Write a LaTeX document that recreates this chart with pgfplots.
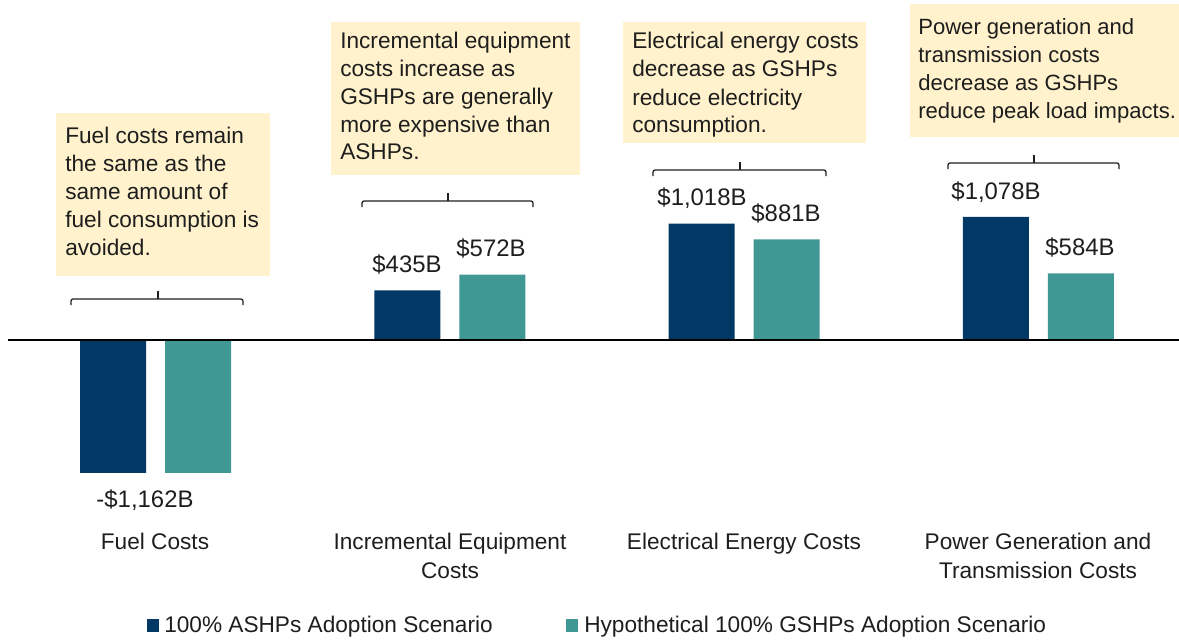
\documentclass[border=0pt]{standalone}
\usepackage{fontspec}
\setmainfont{Liberation Sans}
\usepackage{pgfplots}
\pgfplotsset{compat=1.18}
\definecolor{ashp}{RGB}{2,56,101}
\definecolor{gshp}{RGB}{64,152,148}
\definecolor{note}{RGB}{255,242,204}
\definecolor{ink}{RGB}{30,30,30}

% bracket above a pair of bars: left, right, y, tick x
\newcommand\pairbrace[4]{%
  \draw[ink, line width=0.9pt, rounded corners=1.5pt] (#1,{#3+6}) -- (#1,#3) -- (#2,#3) -- (#2,{#3+6});
  \draw[ink, line width=0.9pt] (#4,#3) -- (#4,{#3-8});
}

\begin{document}
\begin{tikzpicture}[font=\fontsize{16.1}{20}\selectfont, text=ink]
\begin{axis}[
  at={(0,0)}, anchor=south west,
  scale only axis, width=29.475cm, height=16.025cm,
  hide axis, clip=false,
  xmin=-0.5286, xmax=3.4793, ymin=-2633.75, ymax=2975,
  ybar, bar width=1.65cm,
]
% 100% ASHPs Adoption Scenario
\addplot[fill=ashp, draw=none, bar shift=-1.0625cm] coordinates {(0,-1162) (1,435) (2,1018) (3,1078)};
% Hypothetical 100% GSHPs Adoption Scenario
\addplot[fill=gshp, draw=none, bar shift=1.0625cm] coordinates {(0,-1162) (1,572) (2,881) (3,584)};
\end{axis}

% annotations, in pixel units of the reference (origin top left)
\begin{scope}[x=0.025cm, y=-0.025cm, yshift=16.025cm]
  \draw[black, line width=1.4pt] (8,340) -- (1179,340);

  % note boxes
  \fill[note] (56,113) rectangle (270,276);
  \fill[note] (331,22) rectangle (580,175);
  \fill[note] (623,22) rectangle (866,143);
  \fill[note] (910,4) rectangle (1179,137);

  \foreach \t [count=\i from 0] in {Fuel costs remain, the same as the, same amount of, fuel consumption is, avoided.}
    \node[anchor=base west, inner sep=0pt] at (65,{143+28*\i}) {\t};
  \foreach \t [count=\i from 0] in {Incremental equipment, costs increase as, GSHPs are generally, more expensive than, ASHPs.}
    \node[anchor=base west, inner sep=0pt] at (340,{49+27.75*\i}) {\t};
  \foreach \t [count=\i from 0] in {Electrical energy costs, decrease as GSHPs, reduce electricity, consumption.}
    \node[anchor=base west, inner sep=0pt] at (632,{49+28*\i}) {\t};
  \foreach \t [count=\i from 0] in {Power generation and, transmission costs, decrease as GSHPs, reduce peak load impacts.}
    \node[anchor=base west, inner sep=0pt, font=\fontsize{15.7}{20}\selectfont] at (918,{35+27.7*\i}) {\t};

  % brackets
  \pairbrace{71}{243}{299}{158}
  \pairbrace{362}{533}{201}{448}
  \pairbrace{653}{826}{170}{740}
  \pairbrace{948}{1119}{163}{1034}

  % value labels
  \begin{scope}[font=\fontsize{17}{20}\selectfont]
  \node[anchor=base, inner sep=0pt] at (145,507) {-\$1,162B};
  \node[anchor=base, inner sep=0pt] at (407,272) {\$435B};
  \node[anchor=base, inner sep=0pt] at (491,256) {\$572B};
  \node[anchor=base, inner sep=0pt] at (702,205) {\$1,018B};
  \node[anchor=base, inner sep=0pt] at (786,221) {\$881B};
  \node[anchor=base, inner sep=0pt] at (996,199) {\$1,078B};
  \node[anchor=base, inner sep=0pt] at (1080,255) {\$584B};
  \end{scope}

  % category labels
  \node[anchor=base, inner sep=0pt] at (155,549) {Fuel Costs};
  \node[anchor=base, inner sep=0pt] at (450,549) {Incremental Equipment};
  \node[anchor=base, inner sep=0pt] at (450,578) {Costs};
  \node[anchor=base, inner sep=0pt] at (744,549) {Electrical Energy Costs};
  \node[anchor=base, inner sep=0pt] at (1038,549) {Power Generation and};
  \node[anchor=base, inner sep=0pt] at (1038,578) {Transmission Costs};

  % legend
  \fill[ashp] (147,619) rectangle (159,632);
  \node[anchor=base west, inner sep=0pt] at (164,632) {100\% ASHPs Adoption Scenario};
  \fill[gshp] (566,619) rectangle (578,632);
  \node[anchor=base west, inner sep=0pt] at (584,632) {Hypothetical 100\% GSHPs Adoption Scenario};

  \pgfresetboundingbox
  \path[use as bounding box] (0,0) rectangle (1179,641);
\end{scope}
\end{tikzpicture}
\end{document}
